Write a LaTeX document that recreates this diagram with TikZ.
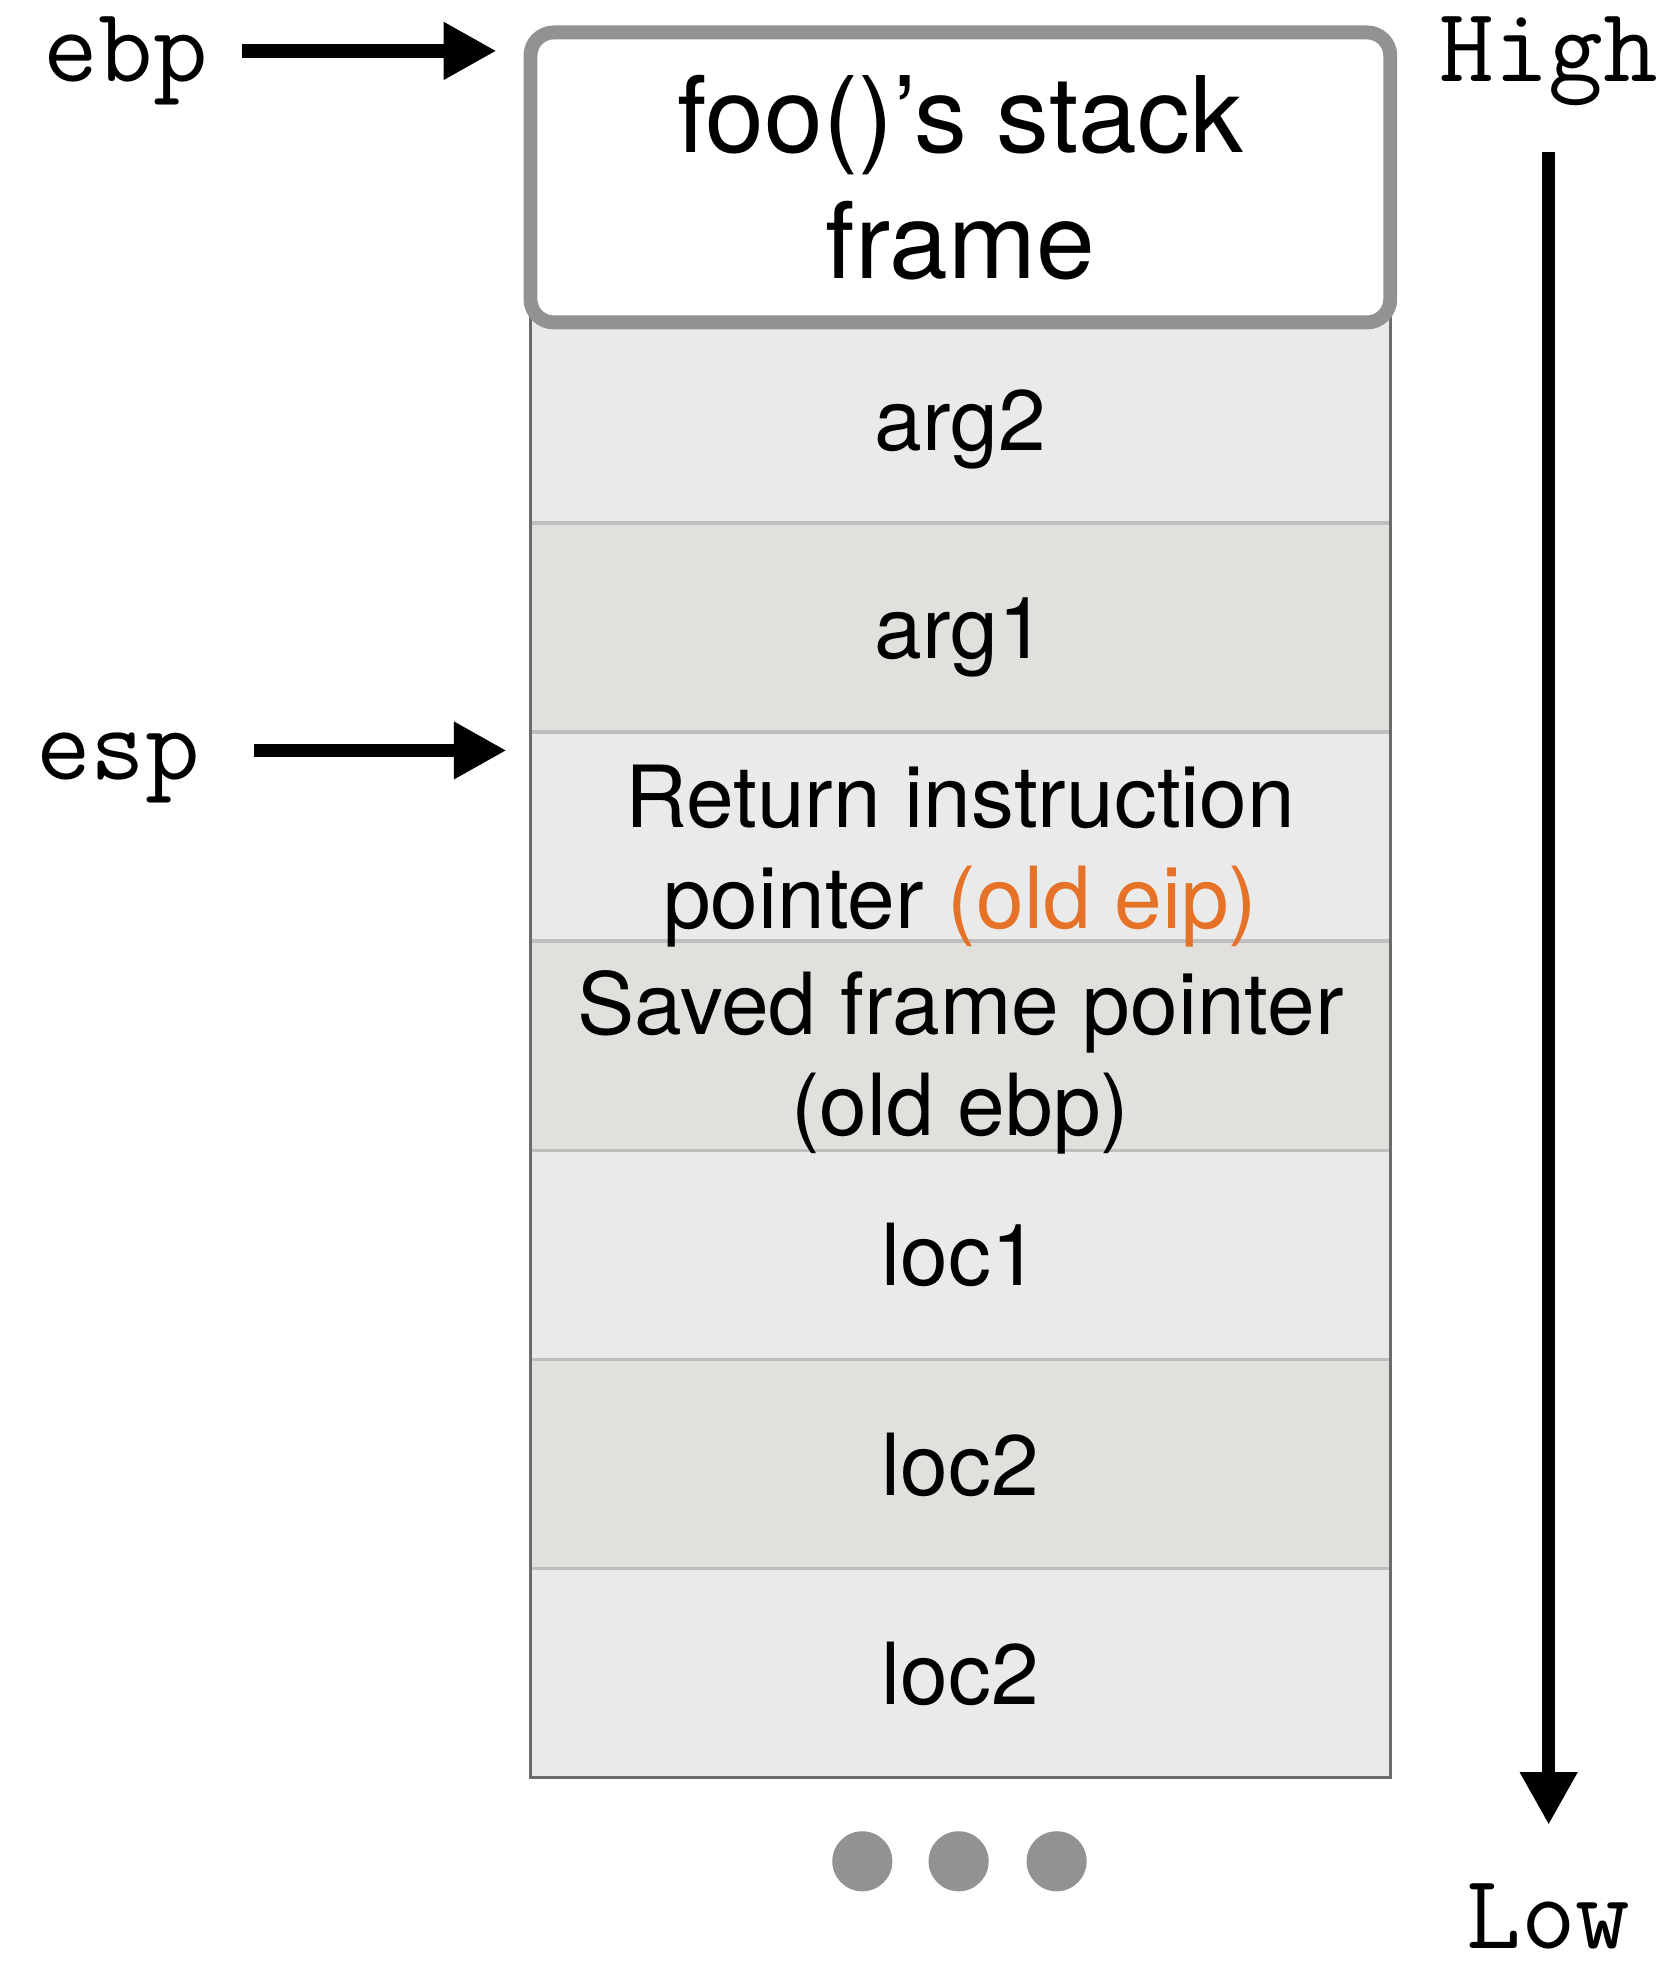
\documentclass[tikz,border=0pt]{standalone}
\usepackage{fontspec}
\setmainfont{TeX Gyre Heros}
\usepackage{tikz}
\usetikzlibrary{arrows.meta}

\definecolor{framegray}{RGB}{146,146,146}
\definecolor{rowlight}{RGB}{234,234,234}
\definecolor{rowdark}{RGB}{225,224,220}
\definecolor{rowline}{RGB}{190,190,190}
\definecolor{edgegray}{RGB}{107,107,107}
\definecolor{eiporange}{RGB}{230,114,40}

\tikzset{
  ptr/.style={line width=3pt, -{Triangle[length=0.42cm,width=0.43cm]}},
  reg/.style={font=\ttfamily\fontsize{24}{29}\selectfont, inner sep=0pt},
  slot/.style={font=\fontsize{19.4}{22.8}\selectfont, inner sep=0pt, align=center},
  sep/.style={rowline, line width=0.8pt},
}

\begin{document}
\begin{tikzpicture}
\useasboundingbox (0,0) rectangle (13.36,-15.68);
\fill[rowlight] (4.22,-2.50) rectangle (11.06,-4.162);
\fill[rowdark] (4.22,-4.162) rectangle (11.06,-5.825);
\fill[rowlight] (4.22,-5.825) rectangle (11.06,-7.488);
\fill[rowdark] (4.22,-7.488) rectangle (11.06,-9.151);
\fill[rowlight] (4.22,-9.151) rectangle (11.06,-10.814);
\fill[rowdark] (4.22,-10.814) rectangle (11.06,-12.477);
\fill[rowlight] (4.22,-12.477) rectangle (11.06,-14.14);
\draw[sep] (4.22,-4.162) -- (11.06,-4.162);
\draw[sep] (4.22,-5.825) -- (11.06,-5.825);
\draw[sep] (4.22,-7.488) -- (11.06,-7.488);
\draw[sep] (4.22,-9.151) -- (11.06,-9.151);
\draw[sep] (4.22,-10.814) -- (11.06,-10.814);
\draw[sep] (4.22,-12.477) -- (11.06,-12.477);
\draw[edgegray, line width=0.7pt] (4.22,-2.50) -- (4.22,-14.14) -- (11.06,-14.14) -- (11.06,-2.50);

\node[draw=framegray, line width=3.15pt, fill=white, rounded corners=0.185cm,
  minimum width=6.84cm, minimum height=2.307cm, inner sep=0pt, align=center,
  font=\fontsize{23.9}{28.45}\selectfont] (frame) at (7.64,-1.4115) {foo()'s stack\\frame};

\node[slot, anchor=base] (arg2) at (7.64,-3.58) {arg2};
\node[slot, anchor=base] (arg1) at (7.64,-5.24) {arg1};
\node[slot] (ret) at (7.64,-6.81) {Return instruction\\pointer \textcolor{eiporange}{(old eip)}};
\node[slot] (saved) at (7.64,-8.45) {Saved frame pointer\\(old ebp)};
\node[slot, anchor=base] (loc1) at (7.64,-10.23) {loc1};
\node[slot, anchor=base] (loc2) at (7.64,-11.90) {loc2};
\node[slot, anchor=base] (loc2b) at (7.64,-13.56) {loc2};

\fill[framegray] (6.86,-14.807) circle (0.239);
\fill[framegray] (7.626,-14.807) circle (0.239);
\fill[framegray] (8.406,-14.807) circle (0.239);

\node[reg, anchor=base] (ebp) at (1.00,-0.65) {ebp};
\node[reg, anchor=base] (esp) at (0.94,-6.20) {esp};
\node[reg, anchor=base] (high) at (12.32,-0.65) {High};
\node[reg, anchor=base] (low) at (12.32,-15.50) {Low};
\coordinate (ebptip) at (3.95,-0.405);
\coordinate (esptip) at (4.03,-5.97);

\draw[ptr, shorten <=0.27cm] (ebp.east |- ebptip) -- (ebptip);
\draw[ptr, shorten <=0.42cm] (esp.east |- esptip) -- (esptip);
\draw[ptr, shorten <=0.36cm, shorten >=0.46cm] (high.south) -- (low.north);
\end{tikzpicture}
\end{document}
